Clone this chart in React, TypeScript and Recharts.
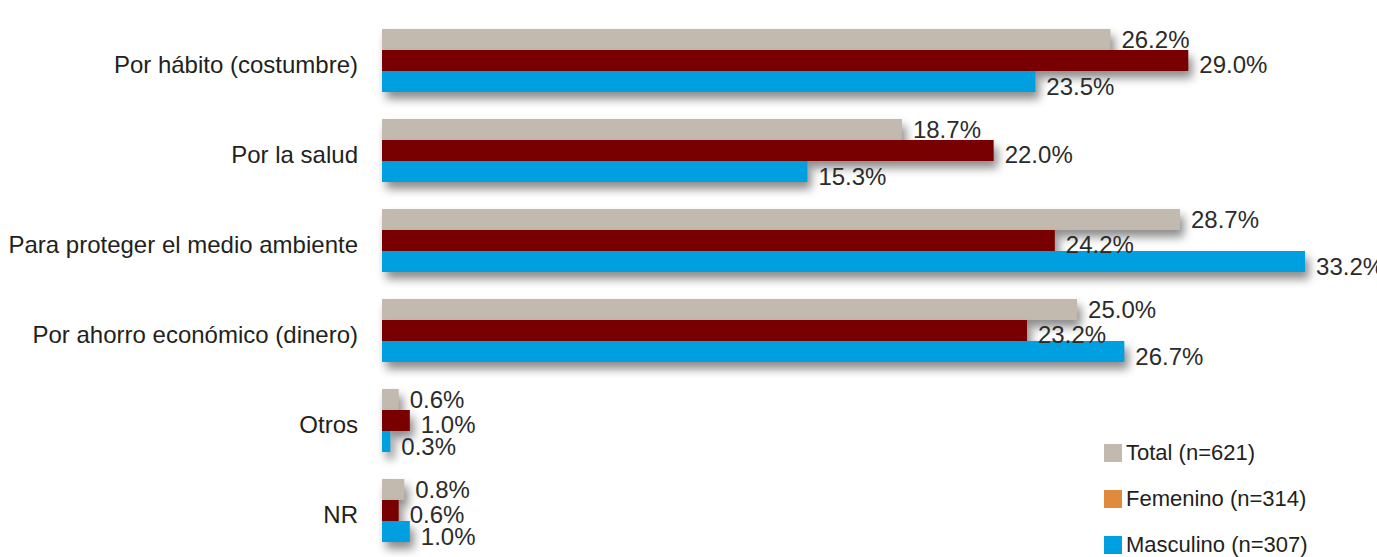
import React from "react";
import { BarChart, Bar, XAxis, YAxis, LabelList, Legend } from "recharts";

const categories = [
  "Por hábito (costumbre)",
  "Por la salud",
  "Para proteger el medio ambiente",
  "Por ahorro económico (dinero)",
  "Otros",
  "NR",
];
const total = [26.2, 18.7, 28.7, 25.0, 0.6, 0.8];
const femenino = [29.0, 22.0, 24.2, 23.2, 1.0, 0.6];
const masculino = [23.5, 15.3, 33.2, 26.7, 0.3, 1.0];

const seriesNames = ["Total (n=621)", "Femenino (n=314)", "Masculino (n=307)"];
const barColors = ["#C2BAAF", "#780000", "#00A0E0"];
const legendColors = ["#C2BAAF", "#E08A3E", "#00A0E0"];

const data = categories.map((c, i) => ({
  name: c,
  total: total[i],
  femenino: femenino[i],
  masculino: masculino[i],
}));

const FONT = "'Liberation Sans', Arial, Helvetica, sans-serif";

const ShadowBar = (props: any) => {
  const { x, y, width, height, fill } = props;
  if (!width || width <= 0) return null;
  return (
    <rect
      x={x}
      y={y}
      width={width}
      height={height}
      fill={fill}
      style={{ filter: "drop-shadow(4px 7px 5px rgba(0,0,0,0.45))" }}
    />
  );
};

const makeLabel = (dy: number) => (props: any) => {
  const { x, y, width, height, value } = props;
  return (
    <text
      x={x + width + 11}
      y={y + height / 2 + dy}
      dy="0.36em"
      fontSize={24}
      fontFamily={FONT}
      fill="#2b2b2b"
      textAnchor="start"
    >
      {Number(value).toFixed(1)}%
    </text>
  );
};

const CategoryTick = (props: any) => {
  const { x, y, payload } = props;
  return (
    <text
      x={x}
      y={y + 4}
      dy="0.36em"
      textAnchor="end"
      fontSize={24}
      fontFamily={FONT}
      fill="#231f20"
    >
      {payload.value}
    </text>
  );
};

const LegendContent = () => (
  <div style={{ position: "relative", width: 0, height: 0, fontFamily: FONT }}>
    {seriesNames.map((n, i) => (
      <div
        key={n}
        style={{
          position: "absolute",
          left: 0,
          top: i * 46,
          height: 24,
          display: "flex",
          alignItems: "center",
          fontSize: 22,
          color: "#231f20",
          whiteSpace: "nowrap",
        }}
      >
        <span
          style={{
            display: "inline-block",
            width: 18,
            height: 18,
            background: legendColors[i],
            marginRight: 4,
          }}
        />
        {n}
      </div>
    ))}
  </div>
);

export default function App() {
  return (
    <div style={{ position: "absolute", left: 0, top: 0, width: 1377, height: 557, background: "#fff" }}>
      <BarChart
        width={1377}
        height={557}
        data={data}
        layout="vertical"
        margin={{ top: 15, right: 8, bottom: 2, left: 0 }}
        barGap={0}
        barSize={21}
      >
        <XAxis type="number" domain={[0, 35.5]} hide />
        <YAxis
          type="category"
          dataKey="name"
          width={382}
          axisLine={false}
          tickLine={false}
          tickSize={0}
          tickMargin={24}
          tick={<CategoryTick />}
          interval={0}
        />
        <Legend
          content={<LegendContent />}
          wrapperStyle={{ position: "absolute", left: 1104, top: 441, width: 0, height: 0, overflow: "visible" }}
        />
        <Bar dataKey="total" name={seriesNames[0]} fill={barColors[0]} shape={<ShadowBar />} isAnimationActive={false}>
          <LabelList dataKey="total" content={makeLabel(0)} />
        </Bar>
        <Bar dataKey="femenino" name={seriesNames[1]} fill={barColors[1]} shape={<ShadowBar />} isAnimationActive={false}>
          <LabelList dataKey="femenino" content={makeLabel(4)} />
        </Bar>
        <Bar dataKey="masculino" name={seriesNames[2]} fill={barColors[2]} shape={<ShadowBar />} isAnimationActive={false}>
          <LabelList dataKey="masculino" content={makeLabel(5)} />
        </Bar>
      </BarChart>
    </div>
  );
}
